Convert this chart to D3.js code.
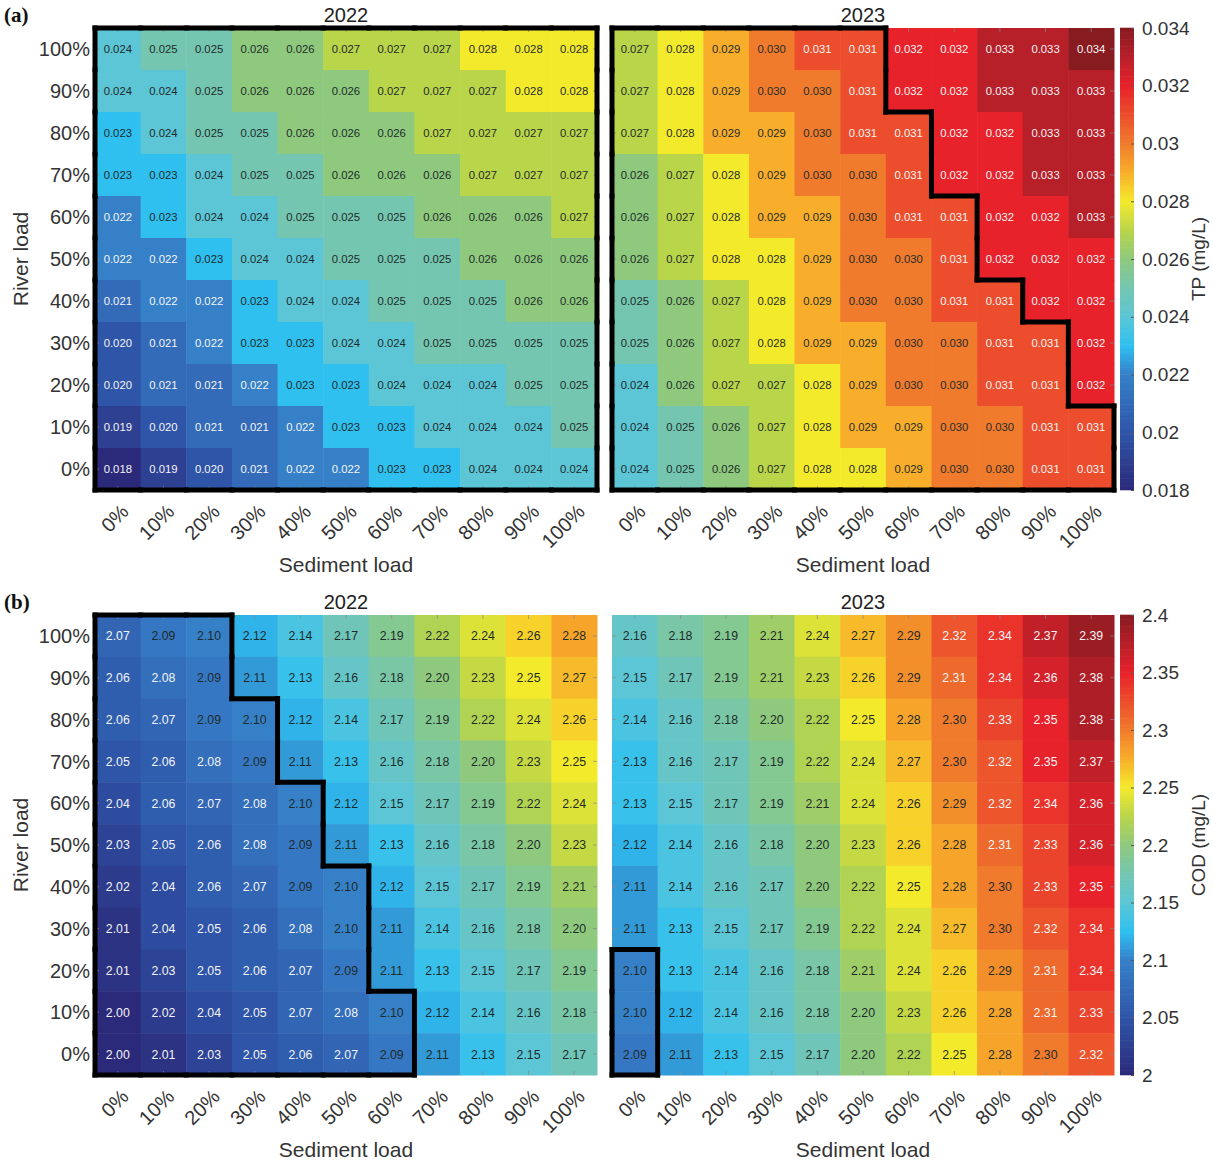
<!DOCTYPE html>
<html><head><meta charset="utf-8">
<script src="https://cdn.jsdelivr.net/npm/d3@7"></script>
<style>body{margin:0;background:#fff;} svg{display:block;font-family:"Liberation Sans",Arial,sans-serif;}</style>
</head><body><svg id="chart" width="1213" height="1164"></svg>
<script>
// ---------------- DATA ----------------
const sedimentLoad = ["0%","10%","20%","30%","40%","50%","60%","70%","80%","90%","100%"];
const riverLoad = ["100%","90%","80%","70%","60%","50%","40%","30%","20%","10%","0%"]; // top -> bottom
const years = ["2022","2023"];

const tp2022 = [
 [0.024,0.025,0.025,0.026,0.026,0.027,0.027,0.027,0.028,0.028,0.028],
 [0.024,0.024,0.025,0.026,0.026,0.026,0.027,0.027,0.027,0.028,0.028],
 [0.023,0.024,0.025,0.025,0.026,0.026,0.026,0.027,0.027,0.027,0.027],
 [0.023,0.023,0.024,0.025,0.025,0.026,0.026,0.026,0.027,0.027,0.027],
 [0.022,0.023,0.024,0.024,0.025,0.025,0.025,0.026,0.026,0.026,0.027],
 [0.022,0.022,0.023,0.024,0.024,0.025,0.025,0.025,0.026,0.026,0.026],
 [0.021,0.022,0.022,0.023,0.024,0.024,0.025,0.025,0.025,0.026,0.026],
 [0.020,0.021,0.022,0.023,0.023,0.024,0.024,0.025,0.025,0.025,0.025],
 [0.020,0.021,0.021,0.022,0.023,0.023,0.024,0.024,0.024,0.025,0.025],
 [0.019,0.020,0.021,0.021,0.022,0.023,0.023,0.024,0.024,0.024,0.025],
 [0.018,0.019,0.020,0.021,0.022,0.022,0.023,0.023,0.024,0.024,0.024]
];
const tp2023 = [
 [0.027,0.028,0.029,0.030,0.031,0.031,0.032,0.032,0.033,0.033,0.034],
 [0.027,0.028,0.029,0.030,0.030,0.031,0.032,0.032,0.033,0.033,0.033],
 [0.027,0.028,0.029,0.029,0.030,0.031,0.031,0.032,0.032,0.033,0.033],
 [0.026,0.027,0.028,0.029,0.030,0.030,0.031,0.032,0.032,0.033,0.033],
 [0.026,0.027,0.028,0.029,0.029,0.030,0.031,0.031,0.032,0.032,0.033],
 [0.026,0.027,0.028,0.028,0.029,0.030,0.030,0.031,0.032,0.032,0.032],
 [0.025,0.026,0.027,0.028,0.029,0.030,0.030,0.031,0.031,0.032,0.032],
 [0.025,0.026,0.027,0.028,0.029,0.029,0.030,0.030,0.031,0.031,0.032],
 [0.024,0.026,0.027,0.027,0.028,0.029,0.030,0.030,0.031,0.031,0.032],
 [0.024,0.025,0.026,0.027,0.028,0.029,0.029,0.030,0.030,0.031,0.031],
 [0.024,0.025,0.026,0.027,0.028,0.028,0.029,0.030,0.030,0.031,0.031]
];
const cod2022 = [
 [2.07,2.09,2.10,2.12,2.14,2.17,2.19,2.22,2.24,2.26,2.28],
 [2.06,2.08,2.09,2.11,2.13,2.16,2.18,2.20,2.23,2.25,2.27],
 [2.06,2.07,2.09,2.10,2.12,2.14,2.17,2.19,2.22,2.24,2.26],
 [2.05,2.06,2.08,2.09,2.11,2.13,2.16,2.18,2.20,2.23,2.25],
 [2.04,2.06,2.07,2.08,2.10,2.12,2.15,2.17,2.19,2.22,2.24],
 [2.03,2.05,2.06,2.08,2.09,2.11,2.13,2.16,2.18,2.20,2.23],
 [2.02,2.04,2.06,2.07,2.09,2.10,2.12,2.15,2.17,2.19,2.21],
 [2.01,2.04,2.05,2.06,2.08,2.10,2.11,2.14,2.16,2.18,2.20],
 [2.01,2.03,2.05,2.06,2.07,2.09,2.11,2.13,2.15,2.17,2.19],
 [2.00,2.02,2.04,2.05,2.07,2.08,2.10,2.12,2.14,2.16,2.18],
 [2.00,2.01,2.03,2.05,2.06,2.07,2.09,2.11,2.13,2.15,2.17]
];
const cod2023 = [
 [2.16,2.18,2.19,2.21,2.24,2.27,2.29,2.32,2.34,2.37,2.39],
 [2.15,2.17,2.19,2.21,2.23,2.26,2.29,2.31,2.34,2.36,2.38],
 [2.14,2.16,2.18,2.20,2.22,2.25,2.28,2.30,2.33,2.35,2.38],
 [2.13,2.16,2.17,2.19,2.22,2.24,2.27,2.30,2.32,2.35,2.37],
 [2.13,2.15,2.17,2.19,2.21,2.24,2.26,2.29,2.32,2.34,2.36],
 [2.12,2.14,2.16,2.18,2.20,2.23,2.26,2.28,2.31,2.33,2.36],
 [2.11,2.14,2.16,2.17,2.20,2.22,2.25,2.28,2.30,2.33,2.35],
 [2.11,2.13,2.15,2.17,2.19,2.22,2.24,2.27,2.30,2.32,2.34],
 [2.10,2.13,2.14,2.16,2.18,2.21,2.24,2.26,2.29,2.31,2.34],
 [2.10,2.12,2.14,2.16,2.18,2.20,2.23,2.26,2.28,2.31,2.33],
 [2.09,2.11,2.13,2.15,2.17,2.20,2.22,2.25,2.28,2.30,2.32]
];

const tpTicks = [0.018,0.020,0.022,0.024,0.026,0.028,0.030,0.032,0.034];
const tpTickLabels = ["0.018","0.02","0.022","0.024","0.026","0.028","0.03","0.032","0.034"];
const codTicks = [2.00,2.05,2.10,2.15,2.20,2.25,2.30,2.35,2.40];
const codTickLabels = ["2","2.05","2.1","2.15","2.2","2.25","2.3","2.35","2.4"];
const tpRange = [0.018,0.034];
const codRange = [2.0,2.4];
const tpLimit = 0.031;   // cells at or below are outlined
const codLimit = 2.10;

// ---------------- STYLE ----------------
const colorStops = [
 [0.000,"#2b2a7a"],[0.125,"#2f55a8"],[0.250,"#3680c8"],[0.3125,"#2fc0f0"],
 [0.375,"#5cc6d6"],[0.4375,"#74c6b0"],[0.500,"#8ec97e"],[0.5625,"#b9d54a"],
 [0.625,"#f4ea2c"],[0.6875,"#f8ae2a"],[0.750,"#f07b2c"],[0.8125,"#ec4d2c"],
 [0.875,"#e8222a"],[0.9375,"#b71f29"],[1.000,"#871b20"]
];

const svg = d3.select("#chart");
const W = 502, gridX = [95, 612], cbX = 1120, cbW = 14;

const panels = [
 {tag:"(a)", top:28, bottom:490, data:[tp2022,tp2023], range:tpRange, ticks:tpTicks, tickLabels:tpTickLabels,
  limit:tpLimit, fmt:d3.format(".3f"), unit:"TP (mg/L)", whiteLow:0.0225, whiteHigh:0.0305, fs:11.3},
 {tag:"(b)", top:615, bottom:1075, data:[cod2022,cod2023], range:codRange, ticks:codTicks, tickLabels:codTickLabels,
  limit:codLimit, fmt:d3.format(".2f"), unit:"COD (mg/L)", whiteLow:2.085, whiteHigh:2.305, fs:12.3}
];

panels.forEach(p => {
  const color = d3.scaleLinear()
    .domain(colorStops.map(s => p.range[0] + s[0]*(p.range[1]-p.range[0])))
    .range(colorStops.map(s => s[1]))
    .clamp(true);
  const y = d3.scaleBand().domain(riverLoad).range([p.top, p.bottom]);
  const g = svg.append("g");

  // panel tag
  g.append("text").attr("x",4).attr("y",p.top-6)
    .style("font-family","'Liberation Serif','Times New Roman',serif").style("font-weight","bold")
    .style("font-size","21px").attr("fill","#111").text(p.tag);

  // river load label
  g.append("text").attr("transform",`translate(28,${(p.top+p.bottom)/2}) rotate(-90)`)
    .attr("text-anchor","middle").style("font-size","21px").attr("fill","#333").text("River load");

  // y tick labels
  g.selectAll(".yl").data(riverLoad).join("text")
    .attr("x",gridX[0]-5).attr("y",d=>y(d)+y.bandwidth()/2).attr("dy","0.36em")
    .attr("text-anchor","end").style("font-size","20px").attr("fill","#333").text(d=>d);

  years.forEach((yr, k) => {
    const x = d3.scaleBand().domain(sedimentLoad).range([gridX[k], gridX[k]+W]);
    const M = p.data[k];
    const cells = [];
    M.forEach((row,i)=>row.forEach((v,j)=>cells.push({i,j,v})));

    g.selectAll(null).data(cells).join("rect")
      .attr("x",d=>x(sedimentLoad[d.j])).attr("y",d=>y(riverLoad[d.i]))
      .attr("width",x.bandwidth()+0.5).attr("height",y.bandwidth()+0.5)
      .attr("fill",d=>color(d.v));

    g.selectAll(null).data(cells).join("text")
      .attr("x",d=>x(sedimentLoad[d.j])+x.bandwidth()/2)
      .attr("y",d=>y(riverLoad[d.i])+y.bandwidth()/2).attr("dy","0.36em")
      .attr("text-anchor","middle").style("font-size",p.fs+"px")
      .attr("fill",d=>(d.v<p.whiteLow||d.v>p.whiteHigh)?"#f4f4f4":"#1f2b2b")
      .text(d=>p.fmt(d.v));

    // small inner ticks
    const tg = g.append("g").attr("stroke","#8a8a8a").attr("stroke-opacity",0.7).attr("stroke-width",1);
    sedimentLoad.forEach(s=>{
      const cx = x(s)+x.bandwidth()/2;
      tg.append("line").attr("x1",cx).attr("x2",cx).attr("y1",p.top).attr("y2",p.top+4);
      tg.append("line").attr("x1",cx).attr("x2",cx).attr("y1",p.bottom).attr("y2",p.bottom-4);
    });
    riverLoad.forEach(r=>{
      const cy = y(r)+y.bandwidth()/2;
      tg.append("line").attr("x1",gridX[k]).attr("x2",gridX[k]+4).attr("y1",cy).attr("y2",cy);
      tg.append("line").attr("x1",gridX[k]+W).attr("x2",gridX[k]+W-4).attr("y1",cy).attr("y2",cy);
    });

    // threshold outline
    const inside = (i,j) => i>=0 && i<M.length && j>=0 && j<M[0].length && M[i][j] <= p.limit + 1e-9;
    const segs = [];
    cells.forEach(({i,j})=>{
      if(!inside(i,j)) return;
      const x0 = x(sedimentLoad[j]), x1 = x0 + x.bandwidth();
      const y0 = y(riverLoad[i]), y1 = y0 + y.bandwidth();
      if(!inside(i-1,j)) segs.push([x0,y0,x1,y0]);
      if(!inside(i+1,j)) segs.push([x0,y1,x1,y1]);
      if(!inside(i,j-1)) segs.push([x0,y0,x0,y1]);
      if(!inside(i,j+1)) segs.push([x1,y0,x1,y1]);
    });
    g.selectAll(null).data(segs).join("line")
      .attr("x1",d=>d[0]).attr("y1",d=>d[1]).attr("x2",d=>d[2]).attr("y2",d=>d[3])
      .attr("stroke","#000").attr("stroke-width",5).attr("stroke-linecap","square");

    // year title
    g.append("text").attr("x",gridX[k]+W/2).attr("y",p.top-6).attr("text-anchor","middle")
      .style("font-size","20px").attr("fill","#222").text(yr);

    // x tick labels
    g.selectAll(null).data(sedimentLoad).join("text")
      .attr("transform",d=>`translate(${x(d)+x.bandwidth()/2+12},${p.bottom+23}) rotate(-45)`)
      .attr("text-anchor","end").style("font-size","20px").attr("fill","#333").text(d=>d);

    g.append("text").attr("x",gridX[k]+W/2).attr("y",p.bottom+82).attr("text-anchor","middle")
      .style("font-size","21px").attr("fill","#333").text("Sediment load");
  });

  // colorbar
  const cy = d3.scaleLinear().domain(p.range).range([p.bottom, p.top]);
  const n = 200;
  const steps = d3.range(n).map(i => p.range[0] + (i+0.5)*(p.range[1]-p.range[0])/n);
  const h = (p.bottom-p.top)/n;
  g.selectAll(null).data(steps).join("rect")
    .attr("x",cbX).attr("width",cbW).attr("y",d=>cy(d)-h/2-0.3).attr("height",h+0.6)
    .attr("fill",d=>color(d));
  const axis = d3.axisRight(cy).tickValues(p.ticks).tickSize(-3).tickPadding(8)
    .tickFormat((d,i)=>p.tickLabels[i]);
  const ag = g.append("g").attr("transform",`translate(${cbX+cbW},0)`).call(axis);
  ag.select(".domain").remove();
  ag.selectAll(".tick line").attr("stroke","#555");
  ag.selectAll(".tick text").style("font-size","19px").attr("fill","#333")
    .style("font-family","'Liberation Sans',Arial,sans-serif");

  g.append("text").attr("transform",`translate(1205,${(p.top+p.bottom)/2}) rotate(-90)`)
    .attr("text-anchor","middle").style("font-size","19px").attr("fill","#333").text(p.unit);
});
</script></body></html>
